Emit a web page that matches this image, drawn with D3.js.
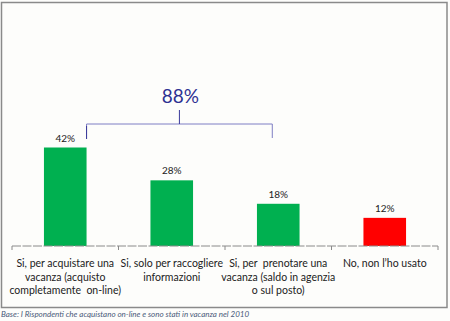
<!DOCTYPE html>
<html><head><meta charset="utf-8">
<script src="https://cdn.jsdelivr.net/npm/d3@7"></script>
<style>body{margin:0;background:#fff}svg{display:block}text,tspan{white-space:pre}</style>
</head><body>
<script>
const categories = [
  ["Si, per acquistare una","vacanza (acquisto","completamente  on-line)"],
  ["Si, solo per raccogliere","informazioni"],
  ["Si, per  prenotare una","vacanza (saldo in agenzia","o sul posto)"],
  ["No, non l\u2019ho usato"]
];
const values = [42, 28, 18, 12];
const valueLabels = ["42%","28%","18%","12%"];
const barColors = ["#00B050","#00B050","#00B050","#FF0000"];
const bracketLabel = "88%";
const footnote = "Base: I Rispondenti che acquistano on-line e sono stati in vacanza nel 2010";

const W = 450, H = 321;
const svg = d3.select("body").append("svg").attr("width", W).attr("height", H);
svg.append("rect").attr("width", W).attr("height", H).attr("fill", "#fdfdfb");
svg.append("rect").attr("x", 1.5).attr("y", 2.5).attr("width", 445.5).attr("height", 305)
  .attr("fill", "none").attr("stroke", "#8a8a8a").attr("stroke-width", 1.5);

const idx = d3.range(values.length);
const x = d3.scaleBand().domain(idx).range([12, 438]).paddingInner(0.6).paddingOuter(0.3);
const y = d3.scaleLinear().domain([0, 42]).range([246, 147.5]);
const font = "Lato, 'Open Sans', sans-serif";

// bars
svg.selectAll("rect.bar").data(idx).enter().append("rect").attr("class","bar")
  .attr("x", i => x(i)).attr("width", x.bandwidth())
  .attr("y", i => y(values[i])).attr("height", i => y(0) - y(values[i]))
  .attr("fill", i => barColors[i]);

// axis
const axisG = svg.append("g");
axisG.append("line").attr("x1", 12).attr("x2", 438).attr("y1", 246).attr("y2", 246)
  .attr("stroke", "#8a8a8a").attr("stroke-width", 1).attr("stroke-dasharray", "9,1.5");
const bounds = d3.range(values.length + 1).map(i => x.range()[0] + i * ((x.range()[1] - x.range()[0]) / values.length));
axisG.selectAll("line.tick").data(bounds).enter().append("line")
  .attr("x1", d => d).attr("x2", d => d).attr("y1", 246).attr("y2", 250)
  .attr("stroke", "#8a8a8a");

// value labels
svg.selectAll("text.val").data(idx).enter().append("text")
  .attr("x", i => x(i) + x.bandwidth()/2).attr("y", i => y(values[i]) - 6)
  .attr("text-anchor", "middle").attr("font-family", font).attr("font-size", 10)
  .attr("fill", "#222").text(i => valueLabels[i]);

// category labels
idx.forEach(i => {
  const t = svg.append("text").attr("text-anchor", "middle")
    .attr("font-family", font).attr("font-size", 10.5).attr("fill", "#222");
  categories[i].forEach((line, k) => {
    t.append("tspan").attr("x", x(i) + x.bandwidth()/2).attr("y", 267 + k * 13.5).text(line);
  });
});

// bracket
const bx1 = x(0) + x.bandwidth();
const bx2 = x(2) + x.bandwidth() * 0.36;
const by = 124;
const bmid = (bx1 + bx2) / 2;
svg.append("path").attr("d", `M${bx1},139V${by}H${bx2}V138`)
  .attr("fill", "none").attr("stroke", "#7f7fc4").attr("stroke-width", 1);
svg.append("line").attr("x1", bx1).attr("x2", bx1).attr("y1", 126).attr("y2", 139)
  .attr("stroke", "#3a3a9a").attr("stroke-width", 1);
svg.append("line").attr("x1", bmid).attr("x2", bmid).attr("y1", 110).attr("y2", by)
  .attr("stroke", "#3a3a9a").attr("stroke-width", 1);
svg.append("text").attr("x", bmid + 1).attr("y", 103).attr("text-anchor", "middle")
  .attr("font-family", font).attr("font-size", 19).attr("fill", "#2e3192").text(bracketLabel);

// footnote
svg.append("text").attr("x", 1).attr("y", 317).attr("font-family", font)
  .attr("font-size", 8).attr("font-style", "italic").attr("fill", "#4a5a7a").text(footnote);
</script>
</body></html>
